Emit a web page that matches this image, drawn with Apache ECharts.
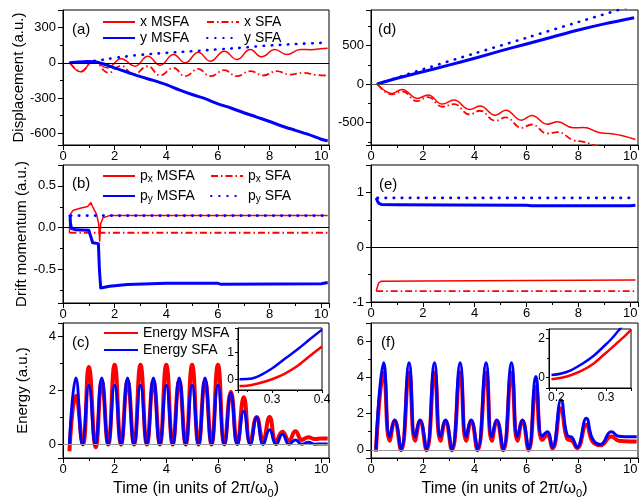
<!DOCTYPE html>
<html>
<head>
<meta charset="utf-8">
<script src="https://cdn.jsdelivr.net/npm/echarts@6/dist/echarts.min.js"></script>
<style>
html, body { margin: 0; padding: 0; background: #fff; }
#chart { width: 641px; height: 500px; }
</style>
</head>
<body>
<div id="chart"></div>
<script>
// (a) displacement, left column
const aXmT = [0.27, 0.69, 1.18, 1.72, 2.25, 2.79, 3.28, 3.76, 4.28, 4.73, 5.24, 5.7, 6.25, 6.73, 7.25, 7.7, 8.2, 8.67, 9.19, 9.6, 10.09, 10.25]
const aXm = [0, -77, 14, -43, 34, -29, 56, -20, 71, 0, 90, 14, 99, 28, 113, 51, 113, 71, 113, 112, 122, 124]
const aXsT = [0.27, 0.69, 1.18, 1.76, 2.25, 2.73, 3.28, 3.76, 4.28, 4.73, 5.24, 5.7, 6.25, 6.73, 7.25, 7.76, 8.27, 8.8, 9.3, 9.8, 10.25]
const aXs = [0, -75, 15, -85, -25, -100, -29, -108, -43, -114, -51, -114, -63, -114, -71, -108, -71, -100, -85, -103, -108]
const aYmT = [0.27, 0.6, 1.0, 1.3, 1.6, 2, 2.5, 3, 3.5, 4, 4.5, 5, 5.5, 6, 6.5, 7, 7.5, 8, 8.5, 9, 9.5, 10, 10.25]
const aYm = [0, 8, 12, 8, -12, -43, -80, -118, -150, -186, -230, -270, -305, -349, -385, -425, -462, -500, -540, -575, -610, -651, -665]
const aYsT = [0.27, 1, 1.5, 2, 2.5, 3, 4, 5, 6, 7, 7.6, 8, 9, 10.25]
const aYs = [0, 12, 25, 42, 56, 68, 85, 99, 115, 130, 142, 148, 160, 172]

// (b) drift momentum, left column
const bPxmT = [0.25, 0.26, 0.3, 0.4, 0.7, 0.95, 1.08, 1.15, 1.3, 1.38, 1.42, 1.46, 1.55, 1.8, 10.25]
const bPxm = [-0.06, 0.1, 0.17, 0.21, 0.235, 0.255, 0.3, 0.25, 0.16, 0.05, -0.16, 0.05, 0.12, 0.145, 0.145]
const bPxsT = [0.25, 10.25]
const bPxs = [-0.06, -0.06]
const bPymT = [0.27, 0.29, 0.33, 0.5, 1.0, 1.07, 1.15, 1.37, 1.41, 1.46, 1.8, 2.5, 4, 6, 6.1, 10, 10.25]
const bPym = [0.155, 0.05, -0.01, -0.025, -0.03, -0.1, -0.18, -0.19, -0.5, -0.72, -0.7, -0.68, -0.665, -0.665, -0.675, -0.67, -0.655]
const bPysT = [0.3, 10.25]
const bPys = [0.145, 0.145]

// (c) energy, left column
const cRedT = [0.25, 0.5, 0.77, 1.0, 1.27, 1.5, 1.75, 2.0, 2.25, 2.5, 2.75, 3.0, 3.25, 3.5, 3.75, 4.0, 4.25, 4.5, 4.75, 5.0, 5.25, 5.5, 5.75, 6.0, 6.25, 6.5, 6.75, 7.0, 7.25, 7.5, 7.75, 8.0, 8.25, 8.5, 8.75, 9.0, 9.25, 9.5, 9.75, 10.0, 10.25]
const cRed = [-0.25, 1.81, 0, 2.87, -0.1, 2.35, 0, 2.95, 0, 2.35, 0, 2.95, 0, 2.35, 0, 2.95, 0, 2.35, 0, 2.95, 0, 2.35, 0, 2.95, 0, 1.95, 0.02, 1.75, 0.05, 1.02, 0.15, 1.02, 0.12, 0.47, 0.15, 0.49, 0.17, 0.27, 0.2, 0.22, 0.22]
const cBlueT = [0.25, 0.5, 0.75, 1.0, 1.25, 1.5, 1.75, 2.0, 2.25, 2.5, 2.75, 3.0, 3.25, 3.5, 3.75, 4.0, 4.25, 4.5, 4.75, 5.0, 5.25, 5.5, 5.75, 6.0, 6.25, 6.5, 6.75, 7.0, 7.25, 7.5, 7.75, 8.0, 8.25, 8.5, 8.75, 9.0, 9.25, 9.5, 9.75, 10.0, 10.25]
const cBlue = [0, 2.46, 0, 2.19, 0, 2.46, 0, 2.19, 0, 2.46, 0, 2.19, 0, 2.46, 0, 2.19, 0, 2.46, 0, 2.19, 0, 2.46, 0, 2.19, 0, 1.9, 0, 1.23, 0, 1.0, 0, 0.55, 0, 0.38, 0.01, 0.17, 0.01, 0.08, 0.01, 0.02, 0.02]
// inset of (c)
const icT = [0.235, 0.25, 0.27, 0.3, 0.325, 0.35, 0.375, 0.4]
const icBlue = [0, 0.005, 0.09, 0.4, 0.75, 1.09, 1.47, 1.84]
const icRed = [-0.25, -0.24, -0.17, 0, 0.2, 0.48, 0.85, 1.21]

// (d) displacement, right column
const dYmT = [0.25, 1, 2, 3, 4, 5, 6, 7, 8, 9, 10.15]
const dYm = [0, 75, 160, 245, 334, 430, 520, 610, 700, 780, 860]
const dYsT = [0.25, 2, 4, 6, 8, 10.25]
const dYs = [0, 191, 398, 600, 805, 1030]
const dXmT = [0.25, 0.81, 1.2, 1.78, 2.2, 2.75, 3.2, 3.8, 4.2, 4.8, 5.2, 5.8, 6.2, 6.8, 7.2, 7.8, 8.2, 8.8, 9.2, 9.7, 10.2]
const dXm = [0, -121, -69, -186, -143, -260, -208, -329, -286, -403, -338, -468, -407, -520, -490, -567, -563, -628, -641, -670, -719]
const dXsT = [0.25, 0.81, 1.2, 1.78, 2.2, 2.75, 3.2, 3.8, 4.2, 4.8, 5.2, 5.8, 6.2, 6.8, 7.2, 7.8, 8.2, 8.8, 9.2, 10.2]
const dXs = [0, -134, -95, -221, -169, -294, -260, -394, -346, -476, -433, -567, -524, -641, -623, -727, -749, -810, -830, -920]

// (e) drift momentum, right column
const eYmT = [0.2, 0.25, 0.3, 0.4, 1, 3, 6, 6.2, 10, 10.2]
const eYm = [0.9, 0.84, 0.8, 0.78, 0.775, 0.77, 0.765, 0.755, 0.755, 0.765]
const eYsT = [0.25, 10.15]
const eYs = [0.9, 0.9]
const eXmT = [0.2, 0.25, 0.3, 0.4, 2, 10.2]
const eXm = [-0.8, -0.72, -0.65, -0.62, -0.615, -0.6]
const eXsT = [0.2, 10.2]
const eXs = [-0.8, -0.8]

// (f) energy, right column
const fT = [0.19, 0.49, 0.72, 0.91, 1.16, 1.47, 1.70, 1.89, 2.14, 2.45, 2.68, 2.87, 3.12, 3.44, 3.67, 3.86, 4.11, 4.44, 4.66, 4.85, 5.10, 5.42, 5.65, 5.84, 6.08, 6.36, 6.6, 6.8, 7.0, 7.33, 7.57, 7.76, 7.95, 8.31, 8.55, 8.85, 9.27, 9.56, 10.0, 10.25]
const fBlue = [0.05, 4.8, 0.72, 1.65, 0.08, 4.8, 0.72, 1.65, 0.08, 4.8, 0.72, 1.65, 0.08, 4.8, 0.72, 1.65, 0.08, 4.8, 0.72, 1.65, 0.08, 4.8, 0.72, 1.65, 0.08, 4.05, 0.75, 1.0, 0.15, 2.75, 0.8, 0.68, 0.15, 1.74, 0.6, 0.3, 1.0, 0.75, 0.72, 0.72]
const fRed = [-0.1, 4.25, 0.5, 1.6, -0.02, 4.25, 0.5, 1.6, -0.02, 4.25, 0.5, 1.6, -0.02, 4.25, 0.5, 1.6, -0.02, 4.25, 0.5, 1.6, -0.02, 4.25, 0.5, 1.6, -0.02, 3.48, 0.55, 0.8, 0.08, 2.29, 0.6, 0.5, 0.1, 1.38, 0.45, 0.25, 0.73, 0.5, 0.46, 0.46]
// inset of (f)
const ifT = [0.19, 0.21, 0.23, 0.253, 0.275, 0.294, 0.31, 0.325, 0.34, 0.35]
const ifBlue = [0.12, 0.2, 0.38, 0.72, 1.12, 1.57, 1.97, 2.42, 2.85, 3.1]
const ifRed = [-0.1, -0.02, 0.12, 0.37, 0.72, 1.14, 1.5, 1.85, 2.2, 2.45]

const FONT = '"Liberation Sans", Arial, sans-serif'
const RED = '#ff0000'
const BLUE = '#0000ff'
const DOT = [0.5, 7.6]
const DASHDOT = [7, 3, 1.5, 3]

const chart = echarts.init(document.getElementById('chart'))

function zip(ts, vs) {
  return ts.map((t, i) => [t, vs[i]])
}

function grid(left, top, width, height, inset) {
  return {
    left, top, width, height,
    show: true,
    borderColor: '#000',
    borderWidth: 1,
    backgroundColor: inset ? '#fff' : 'transparent',
    z: inset ? 10 : 0
  }
}

function xAxis(gridIndex, opts) {
  const inset = opts.inset
  return {
    type: 'value',
    gridIndex,
    min: opts.min,
    max: opts.max,
    interval: opts.interval,
    splitNumber: opts.splitNumber,
    z: inset ? 11 : 0,
    axisLine: { show: true, onZero: false, lineStyle: { color: '#000', width: 1 } },
    axisTick: { show: true, length: inset ? 3 : 5, lineStyle: { color: '#000' } },
    minorTick: { show: true, splitNumber: 2, length: inset ? 2 : 3, lineStyle: { color: '#000' } },
    splitLine: { show: false },
    axisLabel: {
      color: '#000',
      fontSize: inset ? 12 : 13,
      fontFamily: FONT,
      margin: inset ? 4 : 5,
      showMinLabel: opts.showMin,
      showMaxLabel: opts.showMax
    },
    name: opts.name,
    nameLocation: 'middle',
    nameGap: 21,
    nameTextStyle: {
      color: '#000',
      fontFamily: FONT,
      rich: {
        a: { fontSize: 16, fontFamily: FONT, color: '#000', lineHeight: 20 },
        s: { fontSize: 11, fontFamily: FONT, color: '#000', lineHeight: 11, verticalAlign: 'bottom' }
      }
    }
  }
}

function timeAxis(gridIndex, name) {
  return xAxis(gridIndex, { min: 0, max: 10.3, interval: 2, showMin: true, showMax: false, name })
}

function yAxis(gridIndex, opts) {
  const inset = opts.inset
  return {
    type: 'value',
    gridIndex,
    min: opts.min,
    max: opts.max,
    splitNumber: opts.splitNumber,
    z: inset ? 11 : 0,
    axisLine: { show: true, onZero: false, lineStyle: { color: '#000', width: 1 } },
    axisTick: { show: true, length: inset ? 3 : 5, lineStyle: { color: '#000' } },
    minorTick: { show: true, splitNumber: 2, length: inset ? 2 : 3, lineStyle: { color: '#000' } },
    splitLine: { show: false },
    axisLabel: {
      color: '#000',
      fontSize: inset ? 12 : 13,
      fontFamily: FONT,
      margin: inset ? 4 : 7,
      showMinLabel: opts.showMin === true,
      showMaxLabel: false,
      formatter: opts.formatter
    },
    name: opts.name,
    nameLocation: 'middle',
    nameGap: opts.nameGap || 33,
    nameTextStyle: { color: '#000', fontSize: 15, fontFamily: FONT }
  }
}

function zero(color) {
  return {
    silent: true,
    symbol: 'none',
    label: { show: false },
    lineStyle: { color, width: 1, type: 'solid' },
    data: [{ yAxis: 0 }],
    animation: false
  }
}

function line(name, idx, ts, vs, color, width, dash, smooth, extra) {
  return Object.assign({
    name,
    type: 'line',
    xAxisIndex: idx,
    yAxisIndex: idx,
    data: zip(ts, vs),
    symbol: 'none',
    smooth: smooth || false,
    z: idx >= 6 ? 12 : 2,
    lineStyle: { color, width, type: dash || 'solid', cap: dash === DOT ? 'round' : 'butt', join: 'round' },
    itemStyle: { color },
    animation: false
  }, extra || {})
}

const legRich = {
  a: { fontSize: 14, fontFamily: FONT, color: '#000', lineHeight: 16 },
  s: { fontSize: 10, fontFamily: FONT, color: '#000', lineHeight: 10, verticalAlign: 'bottom' }
}

function legend(name, left, top, label, itemWidth) {
  return {
    data: [name],
    left, top,
    padding: 0,
    itemWidth: itemWidth || 32,
    itemHeight: 14,
    selectedMode: false,
    itemStyle: { opacity: 0, borderWidth: 0 },
    formatter: () => label,
    textStyle: { rich: legRich }
  }
}

const timeName = '{a|Time (in units of 2π/ω}{s|0}{a|)}'
const oneDec = v => v.toFixed(1)

const option = {
  animation: false,
  backgroundColor: '#fff',
  textStyle: { fontFamily: FONT },
  grid: [
    grid(63, 10, 266, 135),
    grid(63, 165, 266, 138),
    grid(63, 323, 266, 135),
    grid(371, 10, 267, 135),
    grid(371, 165, 267, 137),
    grid(371, 323, 267, 135),
    grid(238, 328, 84, 62, true),
    grid(549, 329, 82, 59, true)
  ],
  xAxis: [
    timeAxis(0),
    timeAxis(1),
    timeAxis(2, timeName),
    timeAxis(3),
    timeAxis(4),
    timeAxis(5, timeName),
    xAxis(6, { min: 0.232, max: 0.4, splitNumber: 2, inset: true, showMin: false, showMax: true }),
    xAxis(7, { min: 0.185, max: 0.35, splitNumber: 2, inset: true, showMin: false, showMax: false })
  ],
  yAxis: [
    yAxis(0, { min: -700, max: 450, splitNumber: 4, name: 'Displacement (a.u.)' }),
    yAxis(1, { min: -0.9, max: 0.75, splitNumber: 3, name: 'Drift momentum (a.u.)', formatter: oneDec }),
    yAxis(2, { min: -0.5, max: 4.5, splitNumber: 3, name: 'Energy (a.u.)' }),
    yAxis(3, { min: -790, max: 960, splitNumber: 4 }),
    yAxis(4, { min: -1, max: 1.5, splitNumber: 2, showMin: true }),
    yAxis(5, { min: -0.45, max: 7, splitNumber: 4 }),
    yAxis(6, { min: -0.4, max: 1.9, splitNumber: 2, inset: true }),
    yAxis(7, { min: -0.55, max: 2.5, splitNumber: 2, inset: true })
  ],
  legend: [
    legend('x MSFA', 102, 15, '{a|x MSFA}'),
    legend('x SFA', 206, 15, '{a|x SFA}'),
    legend('y MSFA', 102, 31, '{a|y MSFA}'),
    legend('y SFA', 206, 31, '{a|y SFA}'),
    legend('px MSFA', 102, 169, '{a|p}{s|x}{a| MSFA}'),
    legend('px SFA', 210, 169, '{a|p}{s|x}{a| SFA}'),
    legend('py MSFA', 102, 189, '{a|p}{s|y}{a| MSFA}'),
    legend('py SFA', 210, 189, '{a|p}{s|y}{a| SFA}'),
    legend('Energy MSFA', 103, 326, '{a|Energy MSFA}', 34),
    legend('Energy SFA', 103, 343, '{a|Energy SFA}', 34)
  ],
  graphic: [
    { type: 'text', left: 72, top: 22, style: { text: '(a)', font: '15px ' + FONT, fill: '#000' } },
    { type: 'text', left: 72, top: 176, style: { text: '(b)', font: '15px ' + FONT, fill: '#000' } },
    { type: 'text', left: 72, top: 335, style: { text: '(c)', font: '15px ' + FONT, fill: '#000' } },
    { type: 'text', left: 378, top: 22, style: { text: '(d)', font: '15px ' + FONT, fill: '#000' } },
    { type: 'text', left: 379, top: 177, style: { text: '(e)', font: '15px ' + FONT, fill: '#000' } },
    { type: 'text', left: 381, top: 335, style: { text: '(f)', font: '15px ' + FONT, fill: '#000' } }
  ],
  series: [
    // (a)
    line('x MSFA', 0, aXmT, aXm, RED, 1.5, null, 0.45, { markLine: zero('#000') }),
    line('x SFA', 0, aXsT, aXs, RED, 1.8, DASHDOT, 0.45),
    line('y MSFA', 0, aYmT, aYm, BLUE, 3, null, 0.3),
    line('y SFA', 0, aYsT, aYs, BLUE, 2.6, DOT, 0.4),
    // (b)
    line('px MSFA', 1, bPxmT, bPxm, RED, 1.5, null, false, { markLine: zero('#000') }),
    line('px SFA', 1, bPxsT, bPxs, RED, 1.8, DASHDOT),
    line('py MSFA', 1, bPymT, bPym, BLUE, 3),
    line('py SFA', 1, bPysT, bPys, BLUE, 2.6, DOT),
    // (c)
    line('Energy MSFA', 2, cRedT, cRed, RED, 4, null, 0.5, { markLine: zero('#999') }),
    line('Energy SFA', 2, cBlueT, cBlue, BLUE, 3, null, 0.5),
    // (d)
    line('d x MSFA', 3, dXmT, dXm, RED, 1.5, null, 0.45, { markLine: zero('#555') }),
    line('d x SFA', 3, dXsT, dXs, RED, 1.8, DASHDOT, 0.45),
    line('d y MSFA', 3, dYmT, dYm, BLUE, 3, null, 0.3),
    line('d y SFA', 3, dYsT, dYs, BLUE, 2.6, DOT, 0.3),
    // (e)
    line('e px MSFA', 4, eXmT, eXm, RED, 1.5, null, false, { markLine: zero('#000') }),
    line('e px SFA', 4, eXsT, eXs, RED, 1.8, DASHDOT),
    line('e py MSFA', 4, eYmT, eYm, BLUE, 3),
    line('e py SFA', 4, eYsT, eYs, BLUE, 2.6, DOT),
    // (f)
    line('f Energy MSFA', 5, fT, fRed, RED, 4, null, 0.5, { markLine: zero('#999') }),
    line('f Energy SFA', 5, fT, fBlue, BLUE, 3, null, 0.5),
    // insets
    line('ic MSFA', 6, icT, icRed, RED, 2.5, null, 0.4, { markLine: zero('#aaa') }),
    line('ic SFA', 6, icT, icBlue, BLUE, 2.5, null, 0.4),
    line('if MSFA', 7, ifT, ifRed, RED, 2.5, null, 0.4, { markLine: zero('#aaa') }),
    line('if SFA', 7, ifT, ifBlue, BLUE, 2.5, null, 0.4)
  ]
}

chart.setOption(option)
</script>
</body>
</html>
